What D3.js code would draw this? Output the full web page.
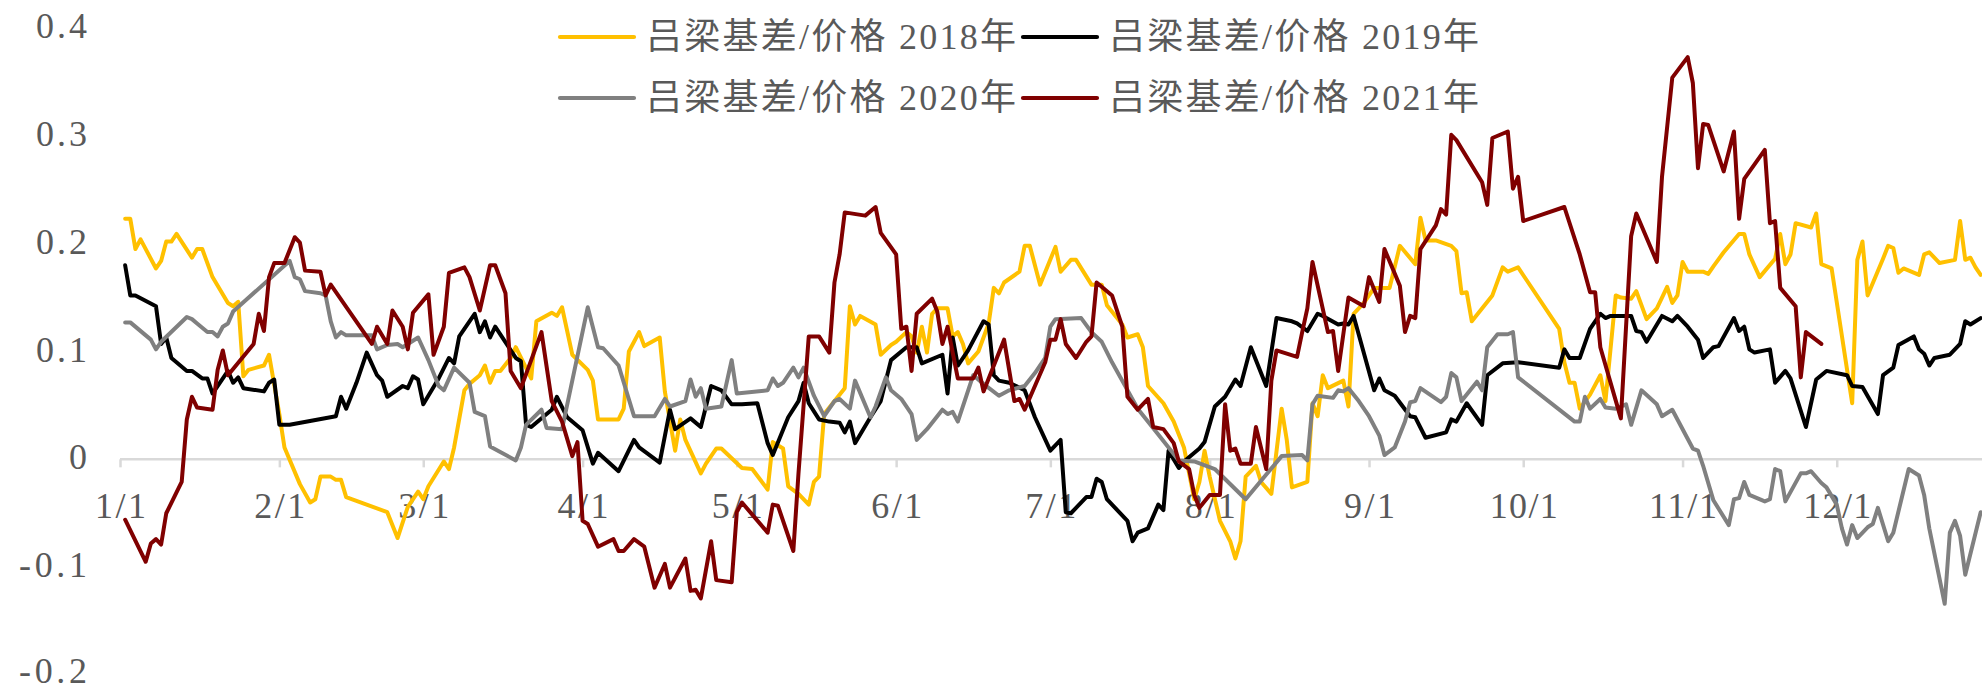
<!DOCTYPE html>
<html><head><meta charset="utf-8">
<script src="https://cdn.jsdelivr.net/npm/d3@7"></script>
<style>html,body{margin:0;padding:0;background:#fff;}svg{display:block;}</style>
</head><body>
<svg id="chart" width="1982" height="691"></svg>
<script>
const seriesNames = ["吕梁基差/价格 2018年","吕梁基差/价格 2019年","吕梁基差/价格 2020年","吕梁基差/价格 2021年"];
const monthLabels = ["1/1","2/1","3/1","4/1","5/1","6/1","7/1","8/1","9/1","10/1","11/1","12/1"];
const yTickValues = [0.4,0.3,0.2,0.1,0,-0.1,-0.2];
const yTickLabels = ["0.4","0.3","0.2","0.1","0","-0.1","-0.2"];

const dates2018 = [
"1/2","1/3","1/4","1/5","1/8","1/9","1/10","1/11","1/12","1/15","1/16","1/17","1/19","1/22","1/23","1/24","1/25","1/26","1/29","1/30",
"2/1","2/2","2/5","2/7","2/8","2/9","2/11","2/12","2/13","2/14","2/22","2/24","2/26","2/28",
"3/1","3/2","3/5","3/6","3/7","3/9","3/10","3/12","3/13","3/14","3/15","3/16","3/18","3/19","3/22","3/23","3/26","3/27","3/28","3/30",
"4/2","4/3","4/4","4/8","4/9","4/10","4/12","4/13","4/16","4/17","4/19","4/20","4/21","4/24","4/25","4/27","4/28",
"5/2","5/4","5/7","5/8","5/10","5/11","5/13","5/15","5/16","5/17","5/18","5/22","5/23","5/24","5/25","5/28","5/29","5/31",
"6/1","6/3","6/4","6/5","6/6","6/7","6/8","6/9","6/11","6/12","6/13","6/14","6/15","6/17","6/19","6/20","6/21","6/22","6/25","6/26","6/27","6/29",
"7/2","7/3","7/5","7/6","7/9","7/11","7/12","7/15","7/16","7/18","7/19","7/20","7/23","7/25","7/27","7/28","7/29","7/30","7/31",
"8/1","8/3","8/5","8/6","8/7","8/8","8/10","8/11","8/13","8/15","8/16","8/17","8/20","8/21","8/22","8/23","8/24","8/27","8/28","8/29","8/31",
"9/2","9/5","9/7","9/10","9/11","9/12","9/14","9/17","9/18","9/19","9/20","9/21","9/25","9/27","9/28","9/30",
"10/8","10/9","10/10","10/11","10/12","10/14","10/16","10/17","10/19","10/20","10/22","10/23","10/25","10/27","10/29","10/30","10/31",
"11/1","11/2","11/5","11/6","11/7","11/9","11/12","11/13","11/14","11/16","11/19","11/20","11/21","11/22","11/23","11/26","11/27","11/28","11/30",
"12/4","12/5","12/6","12/7","12/10","12/11","12/12","12/13","12/14","12/17","12/18","12/19","12/21","12/24","12/25","12/26","12/27","12/28","12/29"];
const values2018 = [
0.223,0.223,0.195,0.204,0.177,0.184,0.202,0.202,0.209,0.187,0.195,0.195,0.169,0.145,0.142,0.146,0.077,0.083,0.087,0.097,
0.042,0.011,-0.023,-0.040,-0.037,-0.016,-0.016,-0.019,-0.019,-0.035,-0.049,-0.073,-0.044,-0.030,
-0.037,-0.025,-0.002,-0.009,0.011,0.064,0.070,0.078,0.087,0.071,0.082,0.082,0.094,0.104,0.075,0.128,0.136,0.133,0.141,0.097,
0.083,0.073,0.037,0.037,0.047,0.100,0.118,0.105,0.113,0.063,0.008,0.037,0.018,-0.013,-0.004,0.010,0.010,
-0.008,-0.009,-0.028,0.016,0.010,-0.025,-0.032,-0.042,-0.021,-0.016,0.042,0.066,0.142,0.125,0.133,0.125,0.097,0.106,
0.109,0.118,0.114,0.099,0.123,0.099,0.135,0.140,0.140,0.114,0.118,0.107,0.089,0.100,0.126,0.159,0.154,0.164,0.174,0.198,0.198,0.162,
0.197,0.174,0.185,0.185,0.162,0.162,0.143,0.125,0.113,0.116,0.104,0.068,0.052,0.035,0.011,-0.013,-0.037,-0.021,0.008,
-0.016,-0.057,-0.076,-0.092,-0.076,-0.016,-0.006,-0.021,-0.032,0.047,0.018,-0.026,-0.021,0.052,0.040,0.078,0.066,0.073,0.049,0.135,0.145,
0.159,0.159,0.198,0.181,0.224,0.203,0.203,0.198,0.193,0.154,0.155,0.128,0.152,0.178,0.174,0.178,
0.121,0.090,0.071,0.071,0.047,0.060,0.078,0.054,0.152,0.150,0.149,0.156,0.130,0.140,0.160,0.145,0.152,
0.183,0.174,0.174,0.172,0.179,0.192,0.209,0.209,0.190,0.169,0.186,0.209,0.181,0.190,0.219,0.215,0.228,0.181,0.177,
0.052,0.185,0.202,0.152,0.186,0.198,0.196,0.173,0.177,0.171,0.190,0.192,0.182,0.185,0.221,0.185,0.187,0.178,0.171];

const dates2019 = [
"1/2","1/3","1/4","1/8","1/9","1/10","1/11","1/14","1/15","1/17","1/18","1/19","1/22","1/23","1/24","1/25","1/29","1/30","1/31",
"2/1","2/3","2/12","2/13","2/14","2/16","2/18","2/20","2/21","2/22","2/25","2/26","2/27","2/28",
"3/1","3/4","3/6","3/7","3/8","3/11","3/12","3/13","3/14","3/15","3/19","3/20","3/21","3/22","3/25","3/26","3/27","3/29",
"4/1","4/3","4/4","4/8","4/11","4/12","4/16","4/18","4/19","4/22","4/24","4/26","4/28","4/30",
"5/2","5/5","5/7","5/8","5/11","5/13","5/14","5/15","5/17","5/19","5/21","5/22","5/23","5/24","5/27","5/29","5/31",
"6/3","6/5","6/6","6/10","6/11","6/12","6/13","6/15","6/18","6/19","6/20","6/21","6/23","6/26","6/28",
"7/1","7/3","7/4","7/5","7/8","7/9","7/10","7/11","7/12","7/16","7/17","7/18","7/20","7/22","7/23","7/24","7/26","7/27","7/30","7/31",
"8/2","8/4","8/6","8/7","8/9","8/12","8/14","8/17","8/18","8/20","8/22","8/23","8/26","8/27","8/28","8/29",
"9/2","9/3","9/4","9/6","9/9","9/10","9/12","9/16","9/17","9/18","9/20","9/23","9/24","9/27","9/30",
"10/8","10/9","10/10","10/12","10/14","10/16","10/17","10/18","10/22","10/23","10/24","10/25","10/28","10/30","10/31",
"11/2","11/4","11/5","11/7","11/8","11/11","11/12","11/13","11/14","11/15","11/18","11/19","11/21","11/22","11/25","11/27","11/29",
"12/3","12/4","12/6","12/9","12/10","12/12","12/13","12/16","12/17","12/18","12/19","12/20","12/23","12/25","12/26","12/27","12/29"];
const values2019 = [
0.180,0.152,0.152,0.142,0.107,0.113,0.094,0.082,0.082,0.075,0.075,0.061,0.082,0.071,0.076,0.066,0.063,0.071,0.074,
0.032,0.032,0.040,0.058,0.047,0.071,0.099,0.078,0.073,0.058,0.068,0.066,0.077,0.074,
0.051,0.075,0.094,0.089,0.114,0.135,0.118,0.128,0.113,0.123,0.094,0.091,0.032,0.030,0.042,0.046,0.058,0.039,
0.027,-0.004,0.006,-0.011,0.018,0.011,-0.003,0.046,0.028,0.038,0.030,0.068,0.064,0.051,
0.051,0.052,0.015,0.004,0.039,0.054,0.071,0.052,0.037,0.035,0.034,0.025,0.035,0.015,0.039,0.054,0.092,
0.104,0.104,0.089,0.097,0.061,0.113,0.087,0.101,0.128,0.125,0.078,0.073,0.071,0.064,0.039,
0.008,0.018,-0.049,-0.050,-0.035,-0.035,-0.018,-0.021,-0.037,-0.057,-0.076,-0.068,-0.064,-0.042,-0.047,0.008,-0.008,-0.002,0.010,0.016,
0.049,0.058,0.074,0.068,0.104,0.068,0.131,0.128,0.126,0.119,0.135,0.133,0.125,0.126,0.125,0.133,
0.064,0.075,0.064,0.059,0.040,0.039,0.020,0.025,0.037,0.035,0.052,0.032,0.078,0.089,0.090,
0.085,0.102,0.094,0.094,0.121,0.135,0.131,0.133,0.133,0.119,0.118,0.109,0.133,0.128,0.133,
0.123,0.111,0.094,0.104,0.105,0.131,0.119,0.123,0.102,0.099,0.102,0.071,0.082,0.075,0.030,0.074,0.082,
0.078,0.068,0.067,0.042,0.078,0.085,0.106,0.114,0.102,0.098,0.087,0.094,0.097,0.107,0.128,0.125,0.131];

const dates2020 = [
"1/2","1/3","1/7","1/8","1/9","1/14","1/15","1/16","1/18","1/19","1/20","1/21","1/22","1/23",
"2/3","2/4","2/5","2/6","2/9","2/10","2/11","2/12","2/13","2/14","2/19","2/20","2/22","2/24","2/25","2/28",
"3/2","3/4","3/5","3/7","3/10","3/11","3/13","3/14","3/19","3/20","3/21","3/24","3/25","3/28",
"4/2","4/4","4/5","4/8","4/11","4/15","4/17","4/18","4/21","4/22","4/23","4/24","4/25","4/28","4/30",
"5/1","5/7","5/8","5/9","5/10","5/12","5/13","5/14","5/16","5/18","5/20","5/21","5/23","5/24","5/27","5/28","5/30","5/31",
"6/2","6/4","6/5","6/7","6/10","6/11","6/12","6/13","6/16","6/18","6/21","6/23","6/26","6/28","6/30",
"7/1","7/2","7/7","7/9","7/11","7/13","7/18","7/22","7/26","7/29",
"8/2","8/8","8/15","8/19","8/20","8/21","8/22","8/25","8/26","8/27","8/28","8/30",
"9/1","9/3","9/4","9/6","9/8","9/9","9/10","9/11","9/15","9/16","9/17","9/18","9/19","9/22","9/23","9/24","9/26","9/28","9/29","9/30",
"10/11","10/12","10/13","10/14","10/16","10/17","10/19","10/21","10/22","10/24","10/27","10/28","10/30",
"11/3","11/4","11/5","11/7","11/10","11/11","11/12","11/13","11/14","11/17","11/18","11/19","11/20","11/21","11/24","11/25","11/26","11/28","11/29",
"12/1","12/2","12/3","12/4","12/5","12/7","12/8","12/9","12/11","12/12","12/15","12/17","12/18","12/19","12/22","12/23","12/24","12/25","12/26","12/29"];
const values2020 = [
0.127,0.127,0.111,0.102,0.109,0.132,0.130,0.126,0.118,0.118,0.114,0.123,0.126,0.137,
0.184,0.169,0.167,0.156,0.154,0.152,0.128,0.113,0.118,0.115,0.115,0.102,0.106,0.107,0.104,0.113,
0.092,0.068,0.064,0.085,0.071,0.044,0.040,0.012,-0.001,0.011,0.032,0.046,0.029,0.028,
0.141,0.104,0.103,0.087,0.040,0.040,0.056,0.049,0.054,0.074,0.058,0.066,0.047,0.049,0.092,
0.061,0.064,0.075,0.068,0.071,0.085,0.076,0.085,0.059,0.040,0.054,0.056,0.047,0.073,0.039,0.049,0.076,0.064,
0.056,0.042,0.018,0.028,0.046,0.042,0.044,0.035,0.078,0.070,0.059,0.064,0.068,0.080,0.094,
0.123,0.130,0.131,0.118,0.109,0.090,0.047,0.023,-0.001,-0.002,
-0.009,-0.037,0.003,0.004,-0.001,0.051,0.059,0.057,0.064,0.063,0.066,0.054,
0.040,0.022,0.004,0.011,0.035,0.053,0.054,0.066,0.053,0.058,0.080,0.076,0.054,0.072,0.064,0.104,0.116,0.116,0.118,0.076,
0.035,0.035,0.058,0.047,0.056,0.048,0.047,0.051,0.032,0.064,0.051,0.040,0.046,
0.010,0.008,-0.006,-0.038,-0.061,-0.037,-0.036,-0.021,-0.033,-0.039,-0.037,-0.009,-0.011,-0.039,-0.013,-0.013,-0.011,-0.022,-0.026,
-0.042,-0.064,-0.079,-0.061,-0.073,-0.063,-0.060,-0.045,-0.076,-0.068,-0.009,-0.015,-0.033,-0.064,-0.134,-0.068,-0.057,-0.071,-0.107,-0.049];

const dates2021 = [
"1/2","1/6","1/7","1/8","1/9","1/10","1/13","1/14","1/15","1/16","1/19","1/20","1/21","1/22","1/27","1/28","1/29","1/30","1/31",
"2/2","2/4","2/5","2/6","2/9","2/10","2/11","2/19","2/20","2/22","2/23","2/25","2/26","2/27",
"3/2","3/3","3/5","3/6","3/9","3/10","3/12","3/14","3/15","3/17","3/18","3/20","3/24","3/26","3/28","3/30","3/31",
"4/1","4/2","4/4","4/7","4/8","4/9","4/11","4/13","4/15","4/17","4/18","4/21","4/22","4/23","4/24","4/26","4/27","4/30",
"5/1","5/2","5/7","5/8","5/9","5/12","5/13","5/15","5/17","5/19","5/20","5/21","5/22","5/26","5/28","5/29",
"6/1","6/2","6/3","6/4","6/5","6/8","6/9","6/10","6/11","6/13","6/16","6/17","6/18","6/22","6/24","6/25","6/26","6/30",
"7/1","7/2","7/3","7/4","7/6","7/8","7/9","7/10","7/13","7/15","7/16","7/18","7/20","7/21","7/23","7/25","7/26","7/28","7/29","7/30",
"8/1","8/3","8/4","8/5","8/6","8/7","8/9","8/10","8/12","8/13","8/14","8/18","8/19","8/20","8/21","8/24","8/25","8/26","8/28","8/31",
"9/1","9/3","9/4","9/7","9/8","9/9","9/10","9/11","9/14","9/15","9/16","9/17","9/18","9/23","9/24","9/25","9/28","9/29","9/30",
"10/1","10/9","10/12","10/14","10/15","10/16","10/20","10/22","10/23","10/27","10/28","10/30",
"11/2","11/3","11/4","11/5","11/6","11/9","11/11","11/12","11/13","11/17","11/18","11/19","11/20","11/23","11/24","11/25","11/28"];
const values2021 = [
-0.056,-0.095,-0.078,-0.074,-0.079,-0.050,-0.021,0.037,0.058,0.048,0.046,0.083,0.101,0.078,0.107,0.135,0.119,0.169,0.182,
0.182,0.206,0.201,0.175,0.174,0.152,0.162,0.107,0.123,0.107,0.138,0.123,0.102,0.136,
0.153,0.097,0.123,0.173,0.178,0.169,0.138,0.180,0.180,0.154,0.082,0.066,0.118,0.054,0.035,0.003,0.016,
-0.057,-0.060,-0.081,-0.074,-0.085,-0.085,-0.074,-0.081,-0.119,-0.097,-0.119,-0.092,-0.122,-0.121,-0.129,-0.076,-0.112,-0.114,
-0.049,-0.040,-0.068,-0.042,-0.043,-0.085,-0.013,0.114,0.114,0.099,0.164,0.190,0.229,0.226,0.234,0.210,
0.190,0.121,0.123,0.082,0.135,0.149,0.137,0.107,0.123,0.075,0.075,0.085,0.063,0.111,0.054,0.056,0.046,0.090,
0.111,0.111,0.130,0.107,0.094,0.109,0.114,0.164,0.152,0.123,0.058,0.046,0.056,0.030,0.028,0.015,-0.002,-0.009,-0.033,-0.045,
-0.033,-0.033,0.051,0.008,0.010,-0.004,-0.004,0.030,-0.009,0.073,0.101,0.095,0.118,0.140,0.183,0.118,0.119,0.082,0.150,0.142,
0.169,0.146,0.195,0.161,0.118,0.133,0.131,0.195,0.217,0.232,0.227,0.301,0.296,0.257,0.236,0.298,0.304,0.251,0.262,
0.221,0.234,0.190,0.155,0.155,0.104,0.038,0.207,0.228,0.183,0.262,0.354,
0.373,0.349,0.270,0.311,0.310,0.267,0.304,0.223,0.260,0.287,0.219,0.221,0.159,0.142,0.076,0.118,0.107];

const seriesColors = ["#FFC000","#000000","#808080","#800000"];

const parse = d3.timeParse("%m/%d");
const allDates = [dates2018, dates2019, dates2020, dates2021];
const allValues = [values2018, values2019, values2020, values2021];
allDates.forEach((d, i) => {
  if (d.length !== allValues[i].length) throw new Error("length mismatch series " + i + ": " + d.length + " vs " + allValues[i].length);
});

const W = 1982, H = 691;
const svg = d3.select("#chart");
svg.append("rect").attr("width", W).attr("height", H).attr("fill", "#fff");

const x = d3.scaleTime()
  .domain([parse("1/1"), parse("12/31")])
  .range([120, 120 + 364 * 5.14]);
const y = d3.scaleLinear().domain([-0.2, 0.4]).range([675, 28]);

const fontFamily = '"Liberation Serif", "Noto Sans CJK SC", serif';
const textColor = "#595959";
const axisFont = 36;
const halfWidth = 17; // width of one half-width character in the reference font

// y labels
svg.append("g").selectAll("text").data(yTickValues).join("text")
  .attr("x", 87).attr("y", d => Math.min(y(d) - 2, H - 20))
  .attr("text-anchor", "end").attr("dominant-baseline", "central")
  .attr("font-family", fontFamily).attr("font-size", axisFont).attr("fill", textColor)
  .attr("textLength", (d, i) => yTickLabels[i].length * halfWidth)
  .attr("lengthAdjust", "spacing")
  .text((d, i) => yTickLabels[i]);

// x axis at zero
const monthDates = monthLabels.map(s => parse(s));
const xAxis = svg.append("g").attr("transform", `translate(0,${y(0)})`)
  .call(d3.axisBottom(x).tickValues(monthDates).tickFormat((d, i) => monthLabels[i]).tickSize(8).tickPadding(25));
xAxis.select(".domain").attr("stroke", "#D9D9D9").attr("stroke-width", 2.5).attr("d", `M${x.range()[0]},0H${W + 20}`);
xAxis.selectAll(".tick line").attr("stroke", "#D9D9D9").attr("stroke-width", 2.5);
xAxis.selectAll(".tick text")
  .attr("font-family", fontFamily).attr("font-size", axisFont).attr("fill", textColor)
  .attr("textLength", (d, i) => monthLabels[i].length * halfWidth)
  .attr("lengthAdjust", "spacing");

// lines
const line = d3.line().x(d => x(d.date)).y(d => y(d.value));
allDates.forEach((dates, i) => {
  const data = dates.map((s, k) => ({ date: parse(s), value: allValues[i][k] }));
  svg.append("path").datum(data)
    .attr("fill", "none").attr("stroke", seriesColors[i]).attr("stroke-width", 4)
    .attr("stroke-linejoin", "round").attr("stroke-linecap", "round")
    .attr("d", line);
});

// legend
const legendCols = [560, 1023];
const legendRows = [37, 98];
seriesNames.forEach((name, i) => {
  const cx = legendCols[i % 2], cy = legendRows[Math.floor(i / 2)];
  const g = svg.append("g");
  g.append("line").attr("x1", cx).attr("x2", cx + 74).attr("y1", cy).attr("y2", cy)
    .attr("stroke", seriesColors[i]).attr("stroke-width", 4.2).attr("stroke-linecap", "round");
  g.append("text").attr("x", cx + 86).attr("y", cy).attr("dominant-baseline", "central")
    .attr("font-family", fontFamily).attr("font-size", 36).attr("fill", textColor)
    .attr("textLength", 370).attr("lengthAdjust", "spacing")
    .text(name);
});
</script>
</body></html>
